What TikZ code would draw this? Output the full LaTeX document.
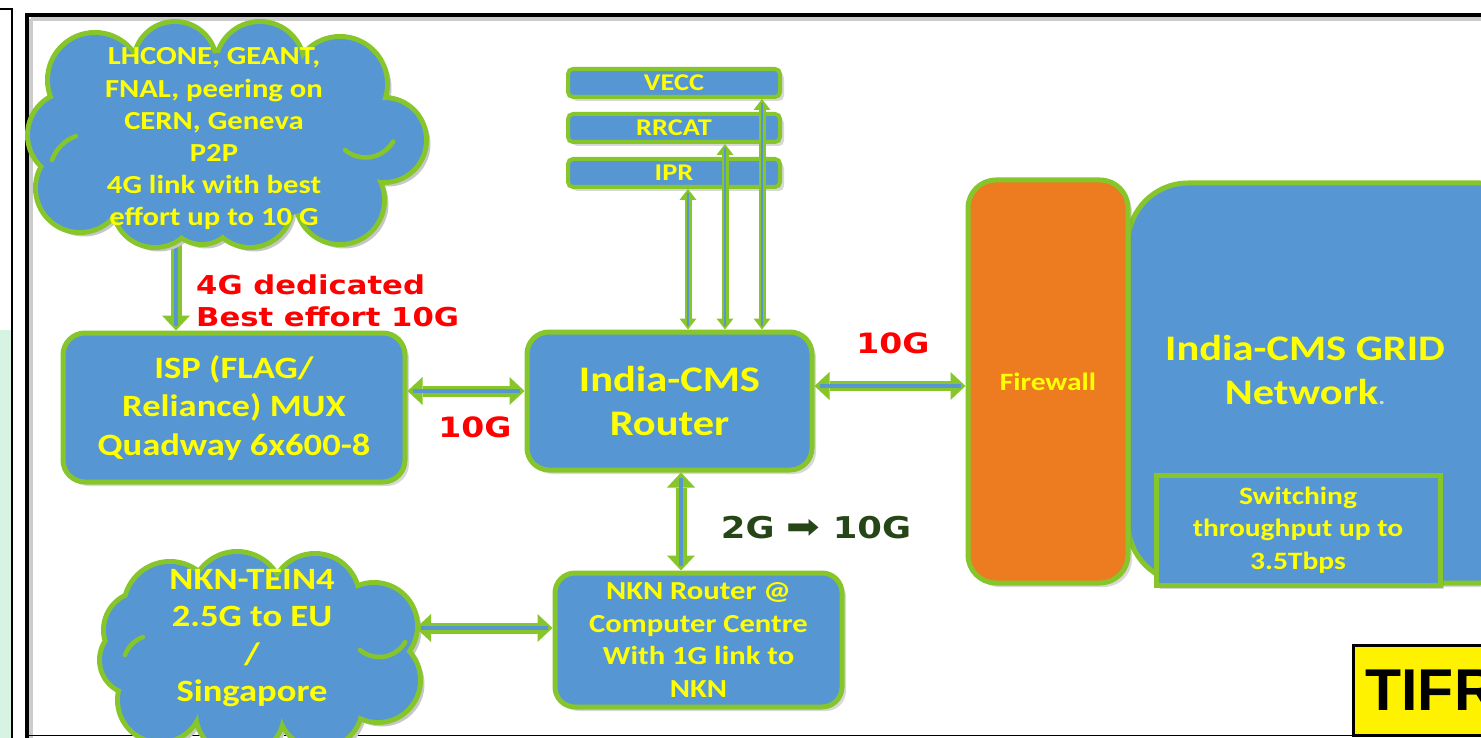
\documentclass[tikz,border=0pt]{standalone}
\usepackage{fontspec}
\setmainfont{Carlito}[FakeStretch=1.18]
\newfontfamily\verdfont{DejaVu Sans}[FakeStretch=1.18]
\newfontfamily\arrowfont{DejaVu Sans}[FakeStretch=1.18]
\newfontfamily\tifrfont{Liberation Sans}
\usetikzlibrary{arrows.meta,shadows,backgrounds,calc}
\definecolor{fblue}{RGB}{86,151,211}
\definecolor{lgreen}{RGB}{134,198,43}
\definecolor{forange}{RGB}{236,124,31}
\definecolor{tyellow}{RGB}{255,255,0}
\definecolor{dgreen}{RGB}{38,70,24}
\definecolor{stripg}{RGB}{215,243,225}
\tikzset{
  shad/.style={drop shadow={opacity=0.3,shadow xshift=4pt,shadow yshift=-4pt}},
  box/.style={draw=lgreen, line width=5pt, fill=fblue, rounded corners=22pt, shad,
    text=tyellow, align=center, inner sep=0pt},
  txt/.style={text=tyellow, align=center, inner sep=0pt},
  bigtip/.tip={Triangle[width=28pt,length=15pt,line width=0pt]},
  smalltip/.tip={Triangle[width=17pt,length=11pt,line width=0pt]},
  link/.style={draw=lgreen, line width=11pt, bigtip-bigtip,
    postaction={draw=fblue, line width=3.5pt, shorten <=5pt, shorten >=5pt, -}},
  linkone/.style={draw=lgreen, line width=11pt, -bigtip,
    postaction={draw=fblue, line width=3.5pt, shorten >=5pt, -}},
  linkthin/.style={draw=lgreen, line width=7pt, smalltip-smalltip,
    postaction={draw=fblue, line width=2pt, shorten <=4pt, shorten >=4pt, -}},
  redlbl/.style={text=red, inner sep=0pt, font=\verdfont\bfseries\fontsize{28}{28}\selectfont},
  innerarc/.style={draw=lgreen, line width=4.5pt, line cap=round},
  cloudshadow/.style={fill=black!22},
  cloudrim/.style={draw=lgreen, line width=10pt},
  cloudfill/.style={fill=fblue},
}
\begin{document}
\begin{tikzpicture}[x=1pt,y=-1pt]
\useasboundingbox (0,0) rectangle (1481,738);
\clip (0,0) rectangle (1481,738);
\begin{pgfonlayer}{background}
\fill[white] (0,0) rectangle (1481,738);
\end{pgfonlayer}
% left strip (edge of neighbouring slide)
\fill[stripg] (0,330) rectangle (11,738);
\draw[line width=2pt] (0,9) -- (12,9) -- (12,738);
% main frame
\draw[black!20, line width=4pt] (31,19) -- (1481,19);
\draw[black!20, line width=4pt] (31,19) -- (31,738);
\draw[line width=4pt] (27,15) -- (1481,15);
\draw[line width=4pt] (27,13) -- (27,738);
\draw[line width=1.5pt] (27,735.5) -- (1481,735.5);

% cloud 1 (union of puffs)
\path[cloudshadow] \foreach \a/\b/\r in {95/80/45, 175/63/39, 260/66/42, 340/84/45, 384/140/40, 340/200/42, 250/205/40, 202/210/32, 155/205/40, 80/188/42, 71/135/41} {(\a+4,\b+4) circle[radius=\r+2.5]};
\path[cloudrim] \foreach \a/\b/\r in {95/80/45, 175/63/39, 260/66/42, 340/84/45, 384/140/40, 340/200/42, 250/205/40, 202/210/32, 155/205/40, 80/188/42, 71/135/41} {(\a,\b) circle[radius=\r]};
\path[cloudfill] \foreach \a/\b/\r in {95/80/45, 175/63/39, 260/66/42, 340/84/45, 384/140/40, 340/200/42, 250/205/40, 202/210/32, 155/205/40, 80/188/42, 71/135/41} {(\a,\b) circle[radius=\r]} (228,138) ellipse[x radius=150, y radius=85];
% cloud 2
\path[cloudshadow] \foreach \a/\b/\r in {170/608/44, 237/598/44, 315/598/42, 374/626/41, 378/680/40, 320/706/40, 240/712/42, 160/700/40, 134/660/32, 142/630/36} {(\a+4,\b+4) circle[radius=\r+2.5]};
\path[cloudrim] \foreach \a/\b/\r in {170/608/44, 237/598/44, 315/598/42, 374/626/41, 378/680/40, 320/706/40, 240/712/42, 160/700/40, 134/660/32, 142/630/36} {(\a,\b) circle[radius=\r]};
\path[cloudfill] \foreach \a/\b/\r in {170/608/44, 237/598/44, 315/598/42, 374/626/41, 378/680/40, 320/706/40, 240/712/42, 160/700/40, 134/660/32, 142/630/36} {(\a,\b) circle[radius=\r]} (262,652) ellipse[x radius=120, y radius=62];
% a few inner arcs of the clouds
\draw[innerarc] (52,160) arc[start angle=200, end angle=250, radius=40];
\draw[innerarc] (345,150) arc[start angle=130, end angle=30, radius=32];
\draw[innerarc] (360,650) arc[start angle=130, end angle=30, radius=30];
\draw[innerarc] (125,655) arc[start angle=200, end angle=250, radius=30];

\node[txt, font=\bfseries\fontsize{26}{32.2}\selectfont] (lhc) at (214,139)
  {LHCONE, GEANT,\\FNAL, peering on\\CERN, Geneva\\P2P\\4G link with best\\effort up to 10 G};
\node[txt, font=\bfseries\fontsize{31}{37.5}\selectfont] (tein) at (252,638)
  {NKN-TEIN4\\2.5G to EU\\/\\Singapore};
\coordinate (lhcfoot) at (176,232);
\coordinate (teinedge) at (416,628);

% boxes
\node[box, minimum width=342pt, minimum height=149pt, font=\bfseries\fontsize{31}{38.5}\selectfont]
  (isp) at (234,407.5) {ISP (FLAG/\\Reliance) MUX\\Quadway 6x600-8};
\node[box, minimum width=285pt, minimum height=138pt, font=\bfseries\fontsize{36}{44}\selectfont]
  (rtr) at (669.5,401) {India-CMS\\Router};
\node[box, minimum width=287pt, minimum height=134pt, rounded corners=20pt,
  font=\bfseries\fontsize{26}{32.5}\selectfont]
  (nkn) at (698.5,640) {NKN Router @\\Computer Centre\\With 1G link to\\NKN};
\foreach \nm/\yy/\tx in {vecc/83/VECC, rrcat/128/RRCAT, ipr/173/IPR}{
  \node[box, line width=4pt, rounded corners=5pt, minimum width=212pt, minimum height=28pt,
    font=\bfseries\fontsize{24}{24}\selectfont] (\nm) at (674,\yy) {\tx};
}
\node[box, minimum width=412pt, minimum height=400pt, rounded corners=60pt] (grid) at (1334,383) {};
\node[box, fill=forange, minimum width=160pt, minimum height=403pt, rounded corners=28pt,
  font=\bfseries\fontsize{25}{25}\selectfont] (fw) at (1048,381.5) {Firewall};
\node[txt, font=\bfseries\fontsize{36}{44}\selectfont] (gridt) at (1305,370)
  {India-CMS GRID\\Network{\color{black!15}\fontsize{22}{22}\selectfont.}};
\node[box, rounded corners=0pt, minimum width=284pt, minimum height=110pt,
  font=\bfseries\fontsize{25}{32.5}\selectfont] (sw) at (1298,530)
  {Switching\\throughput up to\\3.5Tbps};

% TIFR tag
\node[draw=black, line width=3pt, fill=yellow, inner xsep=12pt, minimum height=90pt, anchor=west,
  font=\tifrfont\bfseries\fontsize{59}{59}\selectfont] (tifr) at (1352,690) {TIFR};

% connectors
\begin{pgfonlayer}{background}
\draw[linkone] (lhcfoot) -- (isp.north -| lhcfoot);
\end{pgfonlayer}
\coordinate (yA) at (0,391);
\coordinate (yF) at (0,386);
\coordinate (xI) at (688,0);
\coordinate (xR) at (725,0);
\coordinate (xV) at (762,0);
\coordinate (xN) at (681,0);
\draw[link] (isp.east |- yA) -- (rtr.west |- yA);
\draw[link, line width=10pt] (rtr.east |- yF) -- (fw.west |- yF);
\draw[link] (rtr.south -| xN) -- (nkn.north -| xN);
\draw[link] (teinedge) -- (nkn.west |- teinedge);
\draw[linkthin] (rtr.north -| xI) -- (ipr.south -| xI);
\draw[linkthin] (rtr.north -| xR) -- (rrcat.south -| xR);
\draw[linkthin] (rtr.north -| xV) -- (vecc.south -| xV);

% labels
\node[text=red, inner sep=0pt, align=left, anchor=west,
  font=\verdfont\bfseries\fontsize{26}{32}\selectfont] (ded) at (196,301) {4G dedicated\\Best effort 10G};
\node[redlbl] (l1) at (475,427) {10G};
\node[redlbl] (l2) at (893,343) {10G};
\node[redlbl, text=dgreen, font=\verdfont\bfseries\fontsize{30}{30}\selectfont] (l3) at (816,528)
  {2G {\arrowfont\mdseries\fontsize{34}{30}\selectfont ➡} 10G};
\end{tikzpicture}
\end{document}
